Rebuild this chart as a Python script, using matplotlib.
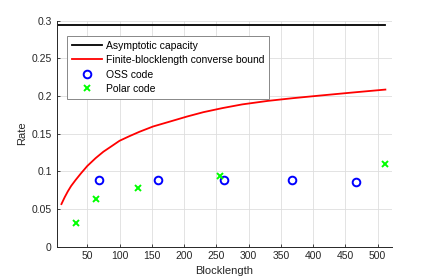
import numpy as np
import matplotlib
matplotlib.use("Agg")
import matplotlib.pyplot as plt

plt.rcParams['font.family'] = ['Liberation Sans', 'DejaVu Sans']

# asymptotic capacity
capacity = 0.294
cap_n = [0, 512]

# finite-blocklength converse bound
fb_n = [10, 15, 20, 25, 32, 40, 50, 63, 75, 88, 100, 115, 131, 152, 178, 205,
        230, 260, 290, 330, 370, 410, 460, 512]
fb_rate = [0.0565, 0.0655, 0.0735, 0.0805, 0.0885, 0.097, 0.107, 0.1175, 0.126,
           0.1335, 0.1405, 0.1465, 0.1525, 0.1595, 0.166, 0.1728, 0.1785, 0.184,
           0.1888, 0.1935, 0.1972, 0.2005, 0.2045, 0.2085]

# OSS code
oss_n = [68, 160, 262, 367, 467]
oss_rate = [0.0883, 0.0887, 0.0885, 0.0883, 0.0864]

# Polar code
polar_n = [32, 64, 128, 256, 512]
polar_rate = [0.0315, 0.063, 0.0785, 0.0944, 0.1096]

xticks = [50, 100, 150, 200, 250, 300, 350, 400, 450, 500]
yticks = [0, 0.05, 0.1, 0.15, 0.2, 0.25, 0.3]
ytick_labels = ['0', '0.05', '0.1', '0.15', '0.2', '0.25', '0.3']

axcol = '#262626'

fig = plt.figure(figsize=(4.32, 2.79), dpi=100)
ax = fig.add_axes([0.131, 0.116, 0.776, 0.81])

ax.plot(cap_n, [capacity, capacity], color='k', lw=1.3, label='Asymptotic capacity')
ax.plot(fb_n, fb_rate, color='r', lw=1.3, label='Finite-blocklength converse bound')
ax.plot(oss_n, oss_rate, 'o', ms=5.5, mfc='none', mec='b', mew=1.4, label='OSS code')
ax.plot(polar_n, polar_rate, 'x', ms=4, mec=(0, 1, 0), mew=1.4, label='Polar code')

ax.set_xlim(2.5, 522)
ax.set_ylim(0, 0.3)
ax.set_xticks(xticks)
ax.set_yticks(yticks)
ax.set_yticklabels(ytick_labels)
ax.grid(True, color='#dedede', lw=0.6)
ax.set_axisbelow(True)
ax.tick_params(colors=axcol, labelsize=7.5, length=2.5, width=0.6, direction='in')
for s in ['top', 'right']:
    ax.spines[s].set_visible(False)
for s in ['left', 'bottom']:
    ax.spines[s].set_color(axcol)
    ax.spines[s].set_linewidth(0.7)

ax.set_xlabel('Blocklength', fontsize=8, color=axcol, labelpad=3)
ax.set_ylabel('Rate', fontsize=8, color=axcol, labelpad=3)

leg = ax.legend(loc='upper left', bbox_to_anchor=(0.0316, 0.934), borderaxespad=0,
                fontsize=7.5, fancybox=False, framealpha=1, handlelength=2.8,
                handletextpad=0.4, borderpad=0.5, labelspacing=0.42)
leg.get_frame().set_edgecolor('#888888')
leg.get_frame().set_linewidth(0.7)

fig.savefig('out.png', dpi=100)
